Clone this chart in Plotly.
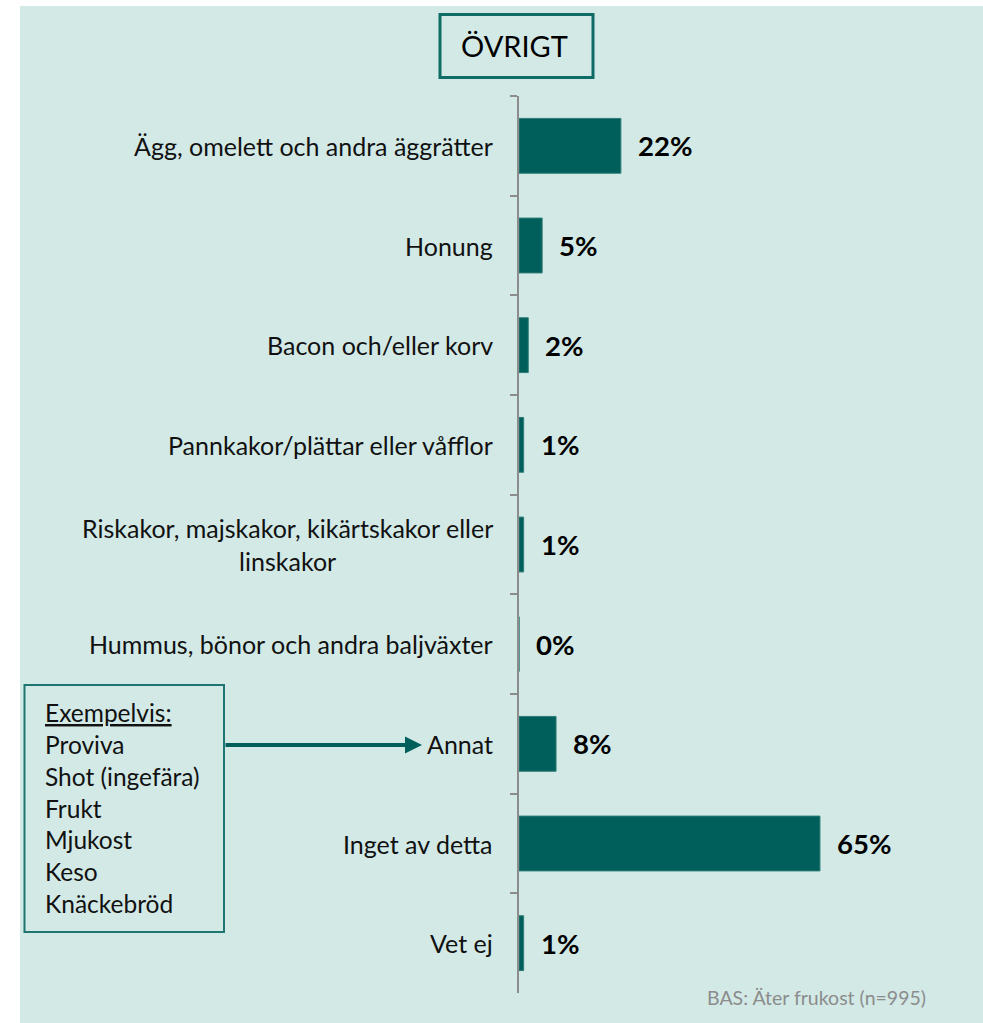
import plotly.graph_objects as go

# Survey answers (share of respondents, %)
categories = [
    "Ägg, omelett och andra äggrätter",
    "Honung",
    "Bacon och/eller korv",
    "Pannkakor/plättar eller våfflor",
    "Riskakor, majskakor, kikärtskakor eller<br>linskakor",
    "Hummus, bönor och andra baljväxter",
    "Annat",
    "Inget av detta",
    "Vet ej",
]
values = [22, 5, 2, 1, 1, 0, 8, 65, 1]

examples_heading = "Exempelvis:"
examples = ["Proviva", "Shot (ingefära)", "Frukt", "Mjukost", "Keso", "Knäckebröd"]

title_text = "ÖVRIGT"
base_text = "BAS: Äter frukost (n=995)"

BAR = "#005F5B"
BG = "#D2E9E6"
AXIS = "#8C8C8C"
FONT = "Lato"

W_FIG, H_FIG = 983, 1023
M_L, M_R, M_T, M_B = 519, 1, 96, 30
PW = W_FIG - M_L - M_R
PH = H_FIG - M_T - M_B


def fx(p):
    return (p - M_L) / PW


def fy(p):
    return (H_FIG - M_B - p) / PH


fig = go.Figure(
    go.Bar(
        x=values,
        y=categories,
        orientation="h",
        width=0.55,
        marker=dict(color=BAR, line=dict(color="#2E7C77", width=1)),
        hoverinfo="skip",
    )
)

annotations = []

# category labels, right aligned to the axis, multi-line labels centred
for cat in categories:
    annotations.append(dict(
        x=0, xref="paper", y=cat, yref="y", xanchor="right", yanchor="middle",
        xshift=-24, text=cat, showarrow=False, align="center",
        font=dict(family=FONT, size=25, color="#111111"),
    ))

# value labels after each bar
for cat, v in zip(categories, values):
    annotations.append(dict(
        x=v, xref="x", y=cat, yref="y", xanchor="left", yanchor="middle",
        xshift=15, text=f"<b>{v}%</b>", showarrow=False,
        font=dict(family=FONT, size=27.5, color="#000000"),
    ))

# heading box
annotations.append(dict(
    x=fx(514.5), xref="paper", y=fy(46), yref="paper", xanchor="center", yanchor="middle",
    text=title_text, showarrow=False, font=dict(family=FONT, size=29, color="#000000"),
))

# examples box text
annotations.append(dict(
    x=fx(43), xref="paper", y=fy(808), yref="paper", xanchor="left", yanchor="middle",
    text="<br>".join([f"<u>{examples_heading}</u>"] + examples), showarrow=False, align="left",
    font=dict(family=FONT, size=24.5, color="#111111"),
))

# arrow towards "Annat"
annotations.append(dict(
    x=fx(422), xref="paper", y=fy(745), yref="paper",
    ax=-(422 - 224), axref="pixel", ay=0, ayref="pixel",
    text="", showarrow=True, arrowhead=2, arrowsize=0.85, arrowwidth=4, arrowcolor=BAR,
))

# base note
annotations.append(dict(
    x=fx(928), xref="paper", y=fy(998), yref="paper", xanchor="right", yanchor="middle",
    text=base_text, showarrow=False, font=dict(family=FONT, size=19.5, color="#8C8C8C"),
))

shapes = [
    # white page margins around the panel
    dict(type="rect", xref="paper", yref="paper", x0=fx(0), x1=fx(20), y0=fy(0), y1=fy(H_FIG),
         fillcolor="white", line=dict(width=0), layer="below"),
    dict(type="rect", xref="paper", yref="paper", x0=fx(0), x1=fx(W_FIG), y0=fy(0), y1=fy(6),
         fillcolor="white", line=dict(width=0), layer="below"),
    # heading frame
    dict(type="rect", xref="paper", yref="paper", x0=fx(440), x1=fx(593), y0=fy(14.5), y1=fy(77.5),
         line=dict(color="#0E6B66", width=3), layer="above"),
    # examples frame
    dict(type="rect", xref="paper", yref="paper", x0=fx(24.5), x1=fx(224), y0=fy(685), y1=fy(932),
         line=dict(color="#1F7570", width=2), layer="above"),
]

fig.update_layout(
    width=W_FIG, height=H_FIG,
    margin=dict(l=M_L, r=M_R, t=M_T, b=M_B, pad=0),
    paper_bgcolor=BG, plot_bgcolor="rgba(0,0,0,0)",
    showlegend=False, bargap=0.45,
    annotations=annotations, shapes=shapes,
    xaxis=dict(range=[0, 100], visible=False, fixedrange=True),
    yaxis=dict(
        type="category", categoryorder="array", categoryarray=categories,
        range=[len(categories) - 0.5, -0.5],
        showline=True, linecolor=AXIS, linewidth=2,
        ticks="outside", tickson="boundaries", ticklen=7, tickwidth=2, tickcolor=AXIS,
        showticklabels=False, showgrid=False, zeroline=False, fixedrange=True,
    ),
)

fig.write_html("out.html", config={"displayModeBar": False})
